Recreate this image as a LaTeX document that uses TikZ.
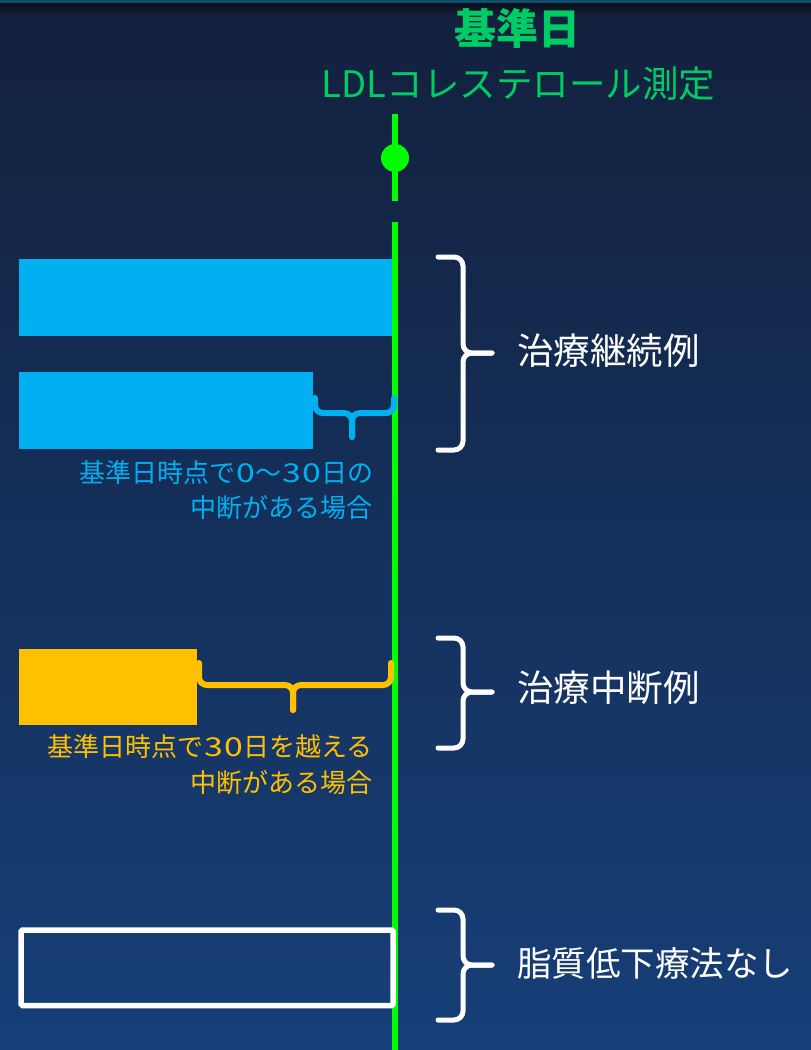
\documentclass[tikz,border=0pt]{standalone}
\usepackage{graphicx}
\usepackage{fontspec}
\setmainfont{Noto Sans CJK JP}
\definecolor{bgtop}{RGB}{19,32,60}
\definecolor{bgbot}{RGB}{22,63,120}
\definecolor{titlegreen}{RGB}{0,204,102}
\definecolor{linegreen}{RGB}{0,255,0}
\definecolor{barblue}{RGB}{0,176,240}
\definecolor{baryellow}{RGB}{255,192,0}
\definecolor{stripteal}{RGB}{15,78,108}
\definecolor{stripdark}{RGB}{10,16,26}
\newcommand{\whitebracepath}[3]{%
  \draw[wbrace] (438,#1) -- (463,#1) -- (463,#3) -- (492,#3);
  \draw[wbrace] (438,#2) -- (463,#2) -- (463,#3) -- (492,#3);
}
\newcommand{\dig}[1]{\makebox[20pt]{\scalebox{1.3}[1.0]{#1}}}
\begin{document}
\begin{tikzpicture}[x=1pt,y=-1pt,
  gline/.style={draw=linegreen, line width=6pt},
  bar/.style={inner sep=0pt, outer sep=0pt, minimum height=77pt, anchor=north west},
  wbrace/.style={draw=white, line width=5pt, rounded corners=9pt, line cap=round},
  bbrace/.style={draw=barblue, line width=6pt, rounded corners=8pt, line cap=round},
  ybrace/.style={draw=baryellow, line width=6pt, rounded corners=8pt, line cap=round},
  note/.style={inner sep=0pt, anchor=base east, font=\fontsize{26}{30}\selectfont},
  label/.style={inner sep=0pt, anchor=base west, text=white, font=\fontsize{36.5}{40}\selectfont},
]
\useasboundingbox (0,0) rectangle (811,1050);
% background
\shade[top color=bgtop, bottom color=bgbot] (0,0) rectangle (811,1050);
\fill[stripteal] (0,0) rectangle (811,3);
\shade[top color=stripdark, bottom color=bgtop] (0,3) rectangle (811,16);

% titles
\node[inner sep=0pt, anchor=base, text=titlegreen, font=\fontsize{42}{48}\selectfont\bfseries] (kijun) at (517,44) {基準日};
\node[inner sep=0pt, anchor=base, text=titlegreen, font=\fontsize{36.5}{44}\selectfont] (ldl) at (518.5,97.5) {LDLコレステロール測定};

% bars
\node[bar, fill=barblue, minimum width=373pt] (bar1) at (19,259) {};
\node[bar, fill=barblue, minimum width=294pt] (bar2) at (19,372) {};
\node[bar, fill=baryellow, minimum width=178pt, minimum height=76pt] (bar3) at (19,649) {};

% green time line
\coordinate (lt) at (395,114);
\coordinate (lb) at (395,201);
\coordinate (l2t) at (395,222);
\coordinate (l2b) at (395,1050);
\draw[gline] (lt) -- (lb);
\draw[gline] (l2t) -- (l2b);
\node[circle, fill=linegreen, minimum size=28pt, inner sep=0pt] (dot) at (395,158) {};

% empty white box
\node[draw=white, line width=5.5pt, rounded corners=1.5pt, inner sep=0pt, outer sep=0pt, minimum width=372pt, minimum height=75.5pt, anchor=north west] (box4) at (21,930) {};

% interruption braces
\draw[bbrace] (315,398) -- (315,413) -- (352,413) -- (352,437);
\draw[bbrace] (394,398) -- (394,413) -- (352,413) -- (352,437);
\draw[ybrace] (199,663) -- (199,685) -- (293,685) -- (293,710);
\draw[ybrace] (391,663) -- (391,685) -- (293,685) -- (293,710);

% notes
\node[note, text=barblue] (n1a) at (374,482) {基準日時点で\dig{0}～\dig{3}\dig{0}日の};
\node[note, text=barblue] (n1b) at (373,517) {中断がある場合};
\node[note, text=baryellow] (n2a) at (373,756.5) {基準日時点で\dig{3}\dig{0}日を越える};
\node[note, text=baryellow] (n2b) at (373,792.5) {中断がある場合};

% right braces
\whitebracepath{257}{450}{353}
\whitebracepath{638}{748}{692}
\whitebracepath{910}{1020}{965}

% labels
\node[label] (lab1) at (517,364.5) {治療継続例};
\node[label] (lab2) at (517,701.5) {治療中断例};
\node[label, font=\fontsize{34.5}{40}\selectfont] (lab3) at (517,976) {脂質低下療法なし};
\end{tikzpicture}
\end{document}
